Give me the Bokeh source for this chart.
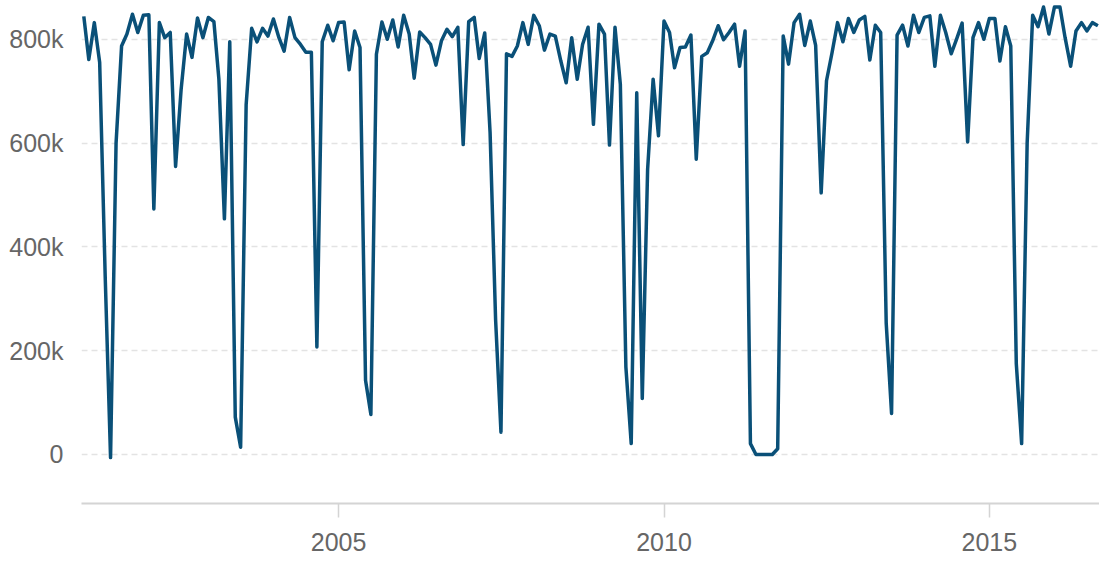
import pandas as pd
from datetime import datetime
from bokeh.plotting import figure
from bokeh.models import Range1d, FixedTicker, DatetimeTickFormatter, ColumnDataSource
from bokeh.embed import file_html
from bokeh.resources import INLINE

# monthly series, Feb 2001 .. Sep 2016 (values in thousands)
start_month = "2001-02-01"
values_k = [
    844, 761, 832, 755, 343, -6, 600, 787, 810, 848, 813, 846,
    847, 473, 832, 803, 813, 555, 703, 810, 765, 841, 803, 842,
    834, 723, 454, 795, 72, 14, 674, 821, 795, 821, 806, 839,
    803, 777, 842, 803, 790, 775, 775, 207, 795, 827, 797, 832,
    833, 741, 816, 784, 143, 77, 771, 833, 800, 837, 785, 846,
    810, 725, 814, 803, 790, 750, 797, 819, 805, 823, 597, 834,
    842, 763, 812, 620, 259, 43, 772, 767, 787, 832, 790, 846,
    826, 779, 810, 806, 758, 716, 803, 723, 790, 823, 636, 829,
    810, 596, 823, 713, 169, 21, 697, 108, 549, 723, 614, 835,
    813, 745, 784, 785, 808, 569, 767, 774, 797, 826, 799, 813,
    829, 748, 816, 21, 0, 0, 0, 0, 11, 806, 752, 832,
    848, 788, 835, 788, 504, 720, 774, 832, 795, 840, 813, 837,
    844, 760, 827, 813, 253, 79, 808, 827, 787, 846, 813, 842,
    845, 748, 846, 813, 772, 800, 831, 602, 803, 832, 800, 840,
    840, 758, 824, 787, 175, 21, 600, 846, 824, 862, 810, 862,
    862, 803, 748, 816, 832, 816, 832, 826,
]
y_ticks = [0, 200000, 400000, 600000, 800000]
y_tick_labels = ["0", "200k", "400k", "600k", "800k"]
x_tick_years = [2005, 2010, 2015]

dates = pd.date_range(start_month, periods=len(values_k), freq="MS")
src = ColumnDataSource(dict(x=dates, y=[v * 1000 for v in values_k]))

p = figure(
    width=1099, height=561, x_axis_type="datetime",
    output_backend="svg", toolbar_location=None,
    x_range=Range1d(datetime(2001, 1, 19), datetime(2016, 9, 10)),
    y_range=Range1d(-94400, 874600),
    min_border_left=81, min_border_right=0, min_border_top=0, min_border_bottom=58,
)
p.outline_line_color = None
p.background_fill_color = "white"
p.border_fill_color = "white"

p.line("x", "y", source=src, line_color="#0a5078", line_width=3.5, line_join="round")

# x axis
xa = p.xaxis[0]
xa.ticker = FixedTicker(ticks=[pd.Timestamp(f"{y}-01-01").value / 1e6 for y in x_tick_years])
xa.formatter = DatetimeTickFormatter(years="%Y", months="%Y", days="%Y", hours="%Y",
                                     minutes="%Y", seconds="%Y", milliseconds="%Y",
                                     microseconds="%Y", hourmin="%Y", minsec="%Y")
xa.axis_line_color = "#d4d4d4"
xa.axis_line_width = 2
xa.major_tick_line_color = "#d4d4d4"
xa.major_tick_line_width = 1.5
xa.major_tick_out = 14
xa.major_tick_in = 0
xa.minor_tick_line_color = None
xa.major_label_standoff = 15
xa.major_label_text_font = "Liberation Sans"
xa.major_label_text_font_size = "25px"
xa.major_label_text_color = "#666666"

# y axis
ya = p.yaxis[0]
ya.ticker = FixedTicker(ticks=y_ticks)
ya.major_label_overrides = {t: l for t, l in zip(y_ticks, y_tick_labels)}
ya.axis_line_color = None
ya.major_tick_line_color = None
ya.minor_tick_line_color = None
ya.major_label_standoff = 12
ya.major_label_text_font = "Liberation Sans"
ya.major_label_text_font_size = "25px"
ya.major_label_text_color = "#666666"

p.xgrid.grid_line_color = None
p.ygrid.grid_line_color = "#e3e3e3"
p.ygrid.grid_line_width = 1.5
p.ygrid.grid_line_dash = "6 4"

open("out.html", "w").write(file_html(p, INLINE))
